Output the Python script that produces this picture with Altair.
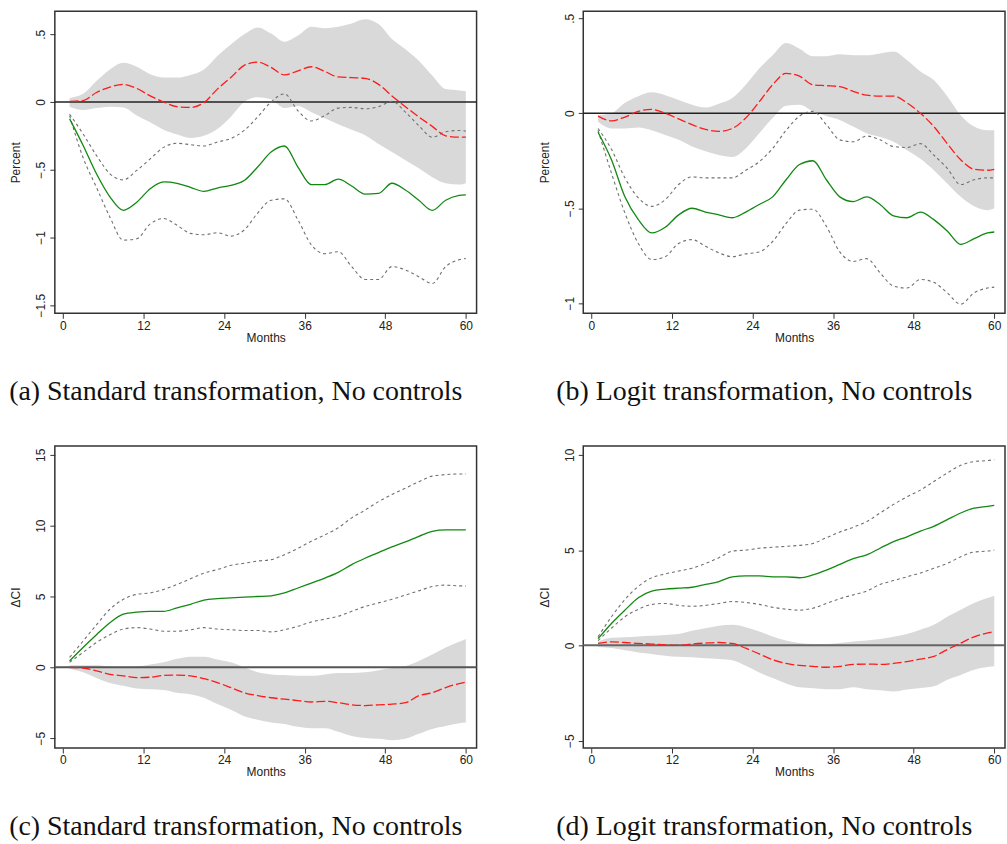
import altair as alt
import pandas as pd

MONTHS = [1, 3, 5, 7, 9, 11, 13, 15, 17, 19, 21, 23, 25, 27, 29, 31, 33, 35, 37, 39,
          41, 43, 45, 47, 49, 51, 53, 55, 57, 59, 60]
X_TICKS = [0, 12, 24, 36, 48, 60]

# Panel (a)
A_GREEN = [-0.125, -0.32, -0.53, -0.70, -0.80, -0.74, -0.64, -0.59, -0.60, -0.63, -0.66, -0.635, -0.615, -0.58, -0.48,
           -0.37, -0.325, -0.48, -0.61, -0.61, -0.57, -0.62, -0.68, -0.675, -0.60, -0.65, -0.725, -0.80, -0.725, -0.69, -0.685]
A_UP = [-0.09, -0.235, -0.395, -0.53, -0.575, -0.505, -0.42, -0.335, -0.305, -0.315, -0.325, -0.295, -0.27, -0.21, -0.11,
        0.0, 0.06, -0.065, -0.14, -0.10, -0.045, -0.04, -0.05, -0.035, 0.005, -0.075, -0.175, -0.26, -0.22, -0.21, -0.215]
A_LO = [-0.10, -0.41, -0.63, -0.85, -1.02, -1.01, -0.90, -0.86, -0.91, -0.97, -0.98, -0.965, -0.99, -0.945, -0.82,
        -0.725, -0.715, -0.87, -1.055, -1.12, -1.105, -1.215, -1.31, -1.31, -1.215, -1.24, -1.29, -1.34, -1.215, -1.165, -1.155]
A_RED = [0.005, 0.01, 0.07, 0.11, 0.13, 0.10, 0.045, 0.0, -0.035, -0.04, -0.005, 0.095, 0.18, 0.27, 0.295,
         0.255, 0.20, 0.23, 0.26, 0.225, 0.185, 0.18, 0.175, 0.13, 0.045, -0.035, -0.11, -0.18, -0.25, -0.26, -0.26]
A_BHI = [0.03, 0.06, 0.155, 0.24, 0.29, 0.26, 0.205, 0.18, 0.18, 0.20, 0.24, 0.34, 0.425, 0.50, 0.55,
         0.505, 0.445, 0.49, 0.555, 0.545, 0.555, 0.58, 0.61, 0.575, 0.465, 0.39, 0.305, 0.195, 0.095, 0.085, 0.08]
A_BLO = [-0.035, -0.06, -0.045, -0.035, -0.04, -0.10, -0.15, -0.205, -0.24, -0.265, -0.25, -0.20, -0.11, 0.0, 0.035,
         0.02, -0.045, -0.03, -0.075, -0.12, -0.165, -0.205, -0.245, -0.31, -0.37, -0.43, -0.49, -0.555, -0.60, -0.61, -0.60]

# Panel (b)
B_GREEN = [-0.10, -0.245, -0.44, -0.56, -0.63, -0.60, -0.535, -0.50, -0.52, -0.535, -0.55, -0.52, -0.48, -0.44, -0.35,
           -0.27, -0.25, -0.35, -0.44, -0.465, -0.44, -0.48, -0.54, -0.55, -0.52, -0.56, -0.62, -0.69, -0.66, -0.63, -0.625]
B_UP = [-0.08, -0.19, -0.34, -0.445, -0.49, -0.455, -0.375, -0.335, -0.34, -0.34, -0.34, -0.30, -0.255, -0.185, -0.09,
        -0.015, 0.01, -0.06, -0.14, -0.15, -0.12, -0.14, -0.175, -0.18, -0.16, -0.22, -0.29, -0.375, -0.35, -0.34, -0.34]
B_LO = [-0.09, -0.315, -0.525, -0.685, -0.77, -0.755, -0.685, -0.665, -0.70, -0.735, -0.755, -0.74, -0.73, -0.675, -0.58,
        -0.51, -0.505, -0.595, -0.73, -0.78, -0.765, -0.84, -0.91, -0.92, -0.875, -0.89, -0.945, -1.005, -0.945, -0.92, -0.915]
B_RED = [-0.015, -0.04, -0.02, 0.01, 0.02, 0.0, -0.03, -0.06, -0.085, -0.095, -0.08, -0.025, 0.06, 0.15, 0.21,
         0.195, 0.15, 0.145, 0.14, 0.115, 0.095, 0.09, 0.09, 0.055, 0.0, -0.07, -0.16, -0.245, -0.295, -0.30, -0.295]
B_BHI = [-0.01, 0.0, 0.055, 0.09, 0.11, 0.095, 0.07, 0.045, 0.03, 0.05, 0.08, 0.15, 0.235, 0.305, 0.37,
         0.34, 0.30, 0.30, 0.31, 0.305, 0.305, 0.315, 0.325, 0.28, 0.22, 0.175, 0.09, -0.01, -0.07, -0.09, -0.09]
B_BLO = [-0.045, -0.08, -0.08, -0.075, -0.09, -0.115, -0.14, -0.175, -0.20, -0.22, -0.23, -0.185, -0.105, -0.025, 0.04,
         0.045, 0.01, -0.015, -0.035, -0.07, -0.105, -0.125, -0.15, -0.195, -0.24, -0.30, -0.37, -0.44, -0.49, -0.51, -0.50]

# Panel (c)
C_GREEN = [0.45, 1.4, 2.3, 3.15, 3.75, 3.9, 3.95, 3.95, 4.2, 4.45, 4.75, 4.85, 4.9, 4.95, 5.0,
           5.05, 5.25, 5.6, 5.95, 6.3, 6.7, 7.25, 7.7, 8.1, 8.5, 8.85, 9.25, 9.6, 9.7, 9.7, 9.7]
C_UP = [0.7, 1.85, 3.0, 4.1, 4.8, 5.15, 5.25, 5.5, 5.85, 6.25, 6.65, 6.9, 7.2, 7.35, 7.5,
        7.6, 7.95, 8.4, 8.9, 9.35, 9.85, 10.55, 11.1, 11.7, 12.2, 12.65, 13.1, 13.5, 13.6, 13.65, 13.65]
C_LO = [0.35, 1.05, 1.75, 2.3, 2.7, 2.8, 2.7, 2.55, 2.55, 2.65, 2.8, 2.7, 2.65, 2.6, 2.6,
        2.5, 2.65, 2.9, 3.2, 3.4, 3.6, 3.95, 4.3, 4.55, 4.8, 5.1, 5.4, 5.7, 5.8, 5.75, 5.75]
C_RED = [0.0, -0.05, -0.25, -0.5, -0.6, -0.73, -0.7, -0.57, -0.55, -0.6, -0.8, -1.08, -1.43, -1.8, -2.0,
         -2.15, -2.25, -2.35, -2.45, -2.4, -2.5, -2.65, -2.7, -2.65, -2.6, -2.5, -2.0, -1.8, -1.43, -1.15, -1.05]
C_BHI = [0.15, 0.15, 0.15, 0.05, 0.0, 0.05, 0.2, 0.35, 0.6, 0.75, 0.75, 0.55, 0.35, 0.0, -0.35,
         -0.5, -0.55, -0.6, -0.6, -0.5, -0.4, -0.4, -0.35, -0.2, -0.05, 0.1, 0.45, 0.9, 1.4, 1.8, 2.0]
C_BLO = [-0.1, -0.35, -0.75, -1.1, -1.3, -1.5, -1.55, -1.6, -1.8, -1.9, -2.15, -2.6, -3.0, -3.45, -3.7,
         -3.9, -4.0, -4.2, -4.3, -4.3, -4.55, -4.85, -5.0, -5.05, -5.15, -5.05, -4.7, -4.35, -4.15, -3.95, -3.9]

# Panel (d)
D_GREEN = [0.35, 1.15, 1.85, 2.5, 2.85, 2.95, 3.0, 3.05, 3.2, 3.35, 3.6, 3.65, 3.65, 3.6, 3.6,
           3.55, 3.7, 3.95, 4.25, 4.55, 4.75, 5.1, 5.45, 5.7, 6.0, 6.25, 6.6, 6.95, 7.2, 7.3, 7.35]
D_UP = [0.45, 1.5, 2.4, 3.1, 3.55, 3.75, 3.9, 4.05, 4.3, 4.6, 4.95, 5.0, 5.1, 5.15, 5.2,
        5.25, 5.35, 5.65, 5.95, 6.2, 6.5, 6.95, 7.4, 7.8, 8.15, 8.6, 9.05, 9.45, 9.65, 9.7, 9.75]
D_LO = [0.25, 0.9, 1.5, 1.9, 2.15, 2.2, 2.1, 2.05, 2.1, 2.2, 2.3, 2.25, 2.15, 2.0, 1.9,
        1.85, 1.95, 2.2, 2.45, 2.65, 2.85, 3.2, 3.4, 3.6, 3.8, 4.05, 4.3, 4.65, 4.9, 4.95, 5.0]
D_RED = [0.1, 0.18, 0.15, 0.1, 0.07, 0.02, 0.0, 0.07, 0.12, 0.15, 0.1, -0.15, -0.45, -0.75, -0.95,
         -1.05, -1.1, -1.15, -1.1, -1.0, -0.98, -1.0, -0.95, -0.85, -0.72, -0.58, -0.22, 0.12, 0.45, 0.65, 0.73]
D_BHI = [0.2, 0.4, 0.42, 0.47, 0.5, 0.55, 0.6, 0.77, 0.9, 1.03, 1.08, 0.95, 0.73, 0.47, 0.26,
         0.12, 0.07, 0.07, 0.12, 0.2, 0.26, 0.33, 0.45, 0.6, 0.82, 1.08, 1.5, 1.87, 2.22, 2.48, 2.6]
D_BLO = [-0.08, -0.14, -0.26, -0.37, -0.45, -0.54, -0.6, -0.63, -0.68, -0.72, -0.78, -1.07, -1.42, -1.72, -2.0,
         -2.2, -2.25, -2.3, -2.3, -2.2, -2.3, -2.36, -2.42, -2.32, -2.24, -2.15, -1.8, -1.55, -1.28, -1.14, -1.1]

PANELS = [
    dict(green=A_GREEN, up=A_UP, lo=A_LO, red=A_RED, bhi=A_BHI, blo=A_BLO,
         ydom=[-1.56, 0.67], yticks=[-1.5, -1, -0.5, 0, 0.5], ytitle="Percent",
         caption="(a) Standard transformation, No controls", zcolor="#222222", zwidth=1.3),
    dict(green=B_GREEN, up=B_UP, lo=B_LO, red=B_RED, bhi=B_BHI, blo=B_BLO,
         ydom=[-1.053, 0.537], yticks=[-1, -0.5, 0, 0.5], ytitle="Percent",
         caption="(b) Logit transformation, No controls", zcolor="#222222", zwidth=1.3),
    dict(green=C_GREEN, up=C_UP, lo=C_LO, red=C_RED, bhi=C_BHI, blo=C_BLO,
         ydom=[-5.7, 15.63], yticks=[-5, 0, 5, 10, 15], ytitle="ΔCI",
         caption="(c) Standard transformation, No controls", zcolor="#555555", zwidth=2),
    dict(green=D_GREEN, up=D_UP, lo=D_LO, red=D_RED, bhi=D_BHI, blo=D_BLO,
         ydom=[-5.39, 10.47], yticks=[-5, 0, 5, 10], ytitle="ΔCI",
         caption="(d) Logit transformation, No controls", zcolor="#666666", zwidth=2),
]

W, H = 423, 303
LABEL_EXPR = "replace(format(datum.value, ''), '0.', '.')"


def make_panel(p):
    df = pd.DataFrame({"month": MONTHS, "green": p["green"], "up": p["up"], "lo": p["lo"],
                       "red": p["red"], "bhi": p["bhi"], "blo": p["blo"]})
    base = alt.Chart(df)
    x = alt.X("month:Q", scale=alt.Scale(domain=[-1.2, 61.6], nice=False, zero=False),
              axis=alt.Axis(values=X_TICKS, title="Months", format="d"))
    yscale = alt.Scale(domain=p["ydom"], nice=False, zero=False)
    yaxis = alt.Axis(values=p["yticks"], title=p["ytitle"], labelExpr=LABEL_EXPR)

    band = base.mark_area(color="#d9d9d9", interpolate="monotone").encode(
        x=x, y=alt.Y("blo:Q", scale=yscale, axis=yaxis), y2="bhi:Q")
    zero = alt.Chart(pd.DataFrame({"z": [0]})).mark_rule(
        color=p["zcolor"], strokeWidth=p["zwidth"]).encode(
        y=alt.Y("z:Q", scale=yscale, axis=yaxis))
    up = base.mark_line(color="#707070", strokeDash=[3, 3], strokeWidth=1.1,
                        interpolate="monotone").encode(
        x=x, y=alt.Y("up:Q", scale=yscale, axis=yaxis))
    lo = base.mark_line(color="#707070", strokeDash=[3, 3], strokeWidth=1.1,
                        interpolate="monotone").encode(
        x=x, y=alt.Y("lo:Q", scale=yscale, axis=yaxis))
    green = base.mark_line(color="#118811", strokeWidth=1.3, interpolate="monotone").encode(
        x=x, y=alt.Y("green:Q", scale=yscale, axis=yaxis))
    red = base.mark_line(color="#ff1a1a", strokeDash=[9, 3], strokeWidth=1.3,
                         interpolate="monotone").encode(
        x=x, y=alt.Y("red:Q", scale=yscale, axis=yaxis))

    return alt.layer(band, zero, up, lo, green, red).properties(
        width=W, height=H,
        title=alt.TitleParams(p["caption"], orient="bottom", anchor="middle", frame="group",
                              dx=-30, offset=35, font="Liberation Serif", fontSize=28,
                              fontWeight="normal", color="#111111"))


chart = alt.concat(*[make_panel(p) for p in PANELS], columns=2,
                   spacing={"row": 133, "column": 107}, bounds="flush").properties(
    padding={"left": 8, "top": 9, "right": 0, "bottom": 0}
).configure_view(stroke="#333333", strokeWidth=1.5).configure_axis(
    grid=False, domain=False, tickColor="#333333", tickSize=5, tickWidth=1,
    labelFont="Liberation Sans", labelFontSize=12, labelColor="#222222", labelPadding=2,
    titleFont="Liberation Sans", titleFontSize=12, titleFontWeight="normal", titleColor="#222222",
).configure_axisLeft(labelAngle=270, labelAlign="center", labelBaseline="bottom", titlePadding=12
).configure_axisBottom(titlePadding=1)

chart.save("out.html", embed_options={"renderer": "svg", "actions": False})
